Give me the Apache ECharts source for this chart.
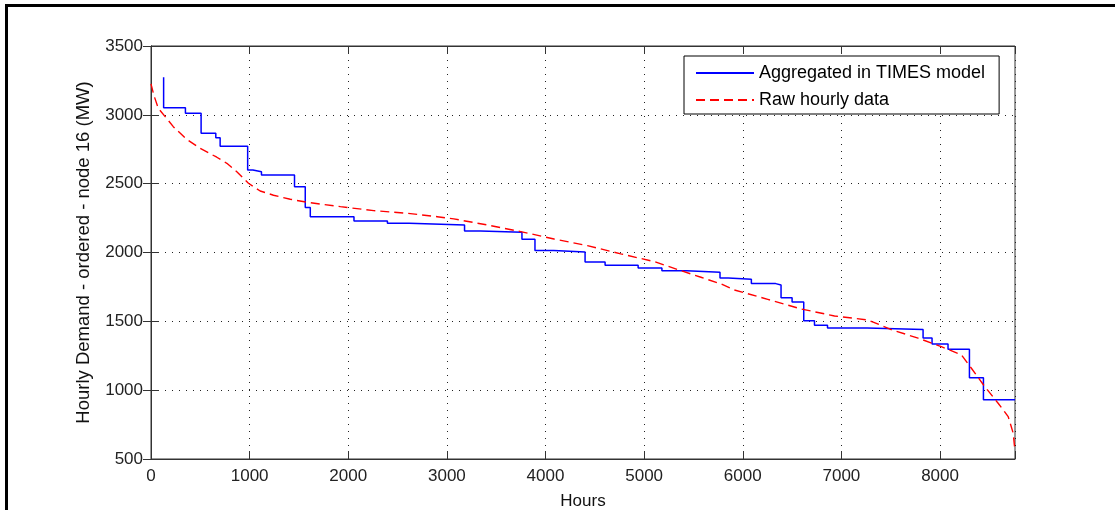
<!DOCTYPE html>
<html>
<head>
<meta charset="utf-8">
<script src="https://cdn.jsdelivr.net/npm/echarts@6/dist/echarts.min.js"></script>
<style>
html,body{margin:0;padding:0;background:#fff;}
#chart{width:1115px;height:510px;}
</style>
</head>
<body>
<div id="chart"></div>
<script>
// Aggregated (step) series: start hour of each level and its value
const aggHours = [128, 128, 349, 508, 657, 701, 980, 1033, 1120, 1455, 1564, 1615, 2058, 2397, 2617, 3179, 3341, 3761, 3893, 4083, 4401, 4604, 4939, 5180, 5431, 5769, 5853, 6087, 6334, 6388, 6500, 6618, 6727, 6859, 7262, 7828, 7919, 8081, 8298, 8440, 8760];
const aggValues = [3273, 3052, 3011, 2866, 2834, 2771, 2600, 2587, 2563, 2478, 2326, 2260, 2229, 2212, 2200, 2157, 2147, 2096, 2014, 2004, 1931, 1907, 1888, 1868, 1857, 1815, 1806, 1774, 1764, 1672, 1641, 1505, 1471, 1452, 1440, 1379, 1336, 1297, 1091, 931, 931];
// Raw hourly data (ordered), sampled along the curve
const rawHours = [0, 30, 74, 226, 362, 498, 667, 769, 870, 988, 1107, 1242, 1412, 1581, 1920, 2258, 2597, 2902, 3070, 3410, 3748, 4086, 4425, 4763, 5102, 5373, 5576, 5779, 5914, 6253, 6591, 6930, 7269, 7505, 7777, 8013, 8217, 8318, 8453, 8589, 8691, 8742, 8757];
const rawValues = [3225, 3140, 3048, 2914, 2822, 2757, 2692, 2648, 2587, 2503, 2447, 2416, 2387, 2365, 2333, 2304, 2285, 2260, 2244, 2200, 2152, 2098, 2050, 1990, 1934, 1868, 1820, 1772, 1728, 1660, 1590, 1539, 1510, 1440, 1378, 1316, 1256, 1159, 1026, 905, 808, 687, 578];
const seriesNames = ['Aggregated in TIMES model', 'Raw hourly data'];
const xTitle = 'Hours';
const yTitle = 'Hourly Demand - ordered - node 16 (MW)';

const FONT = '"Liberation Sans", Arial, sans-serif';
const axisColor = '#333';

const chart = echarts.init(document.getElementById('chart'), null, {renderer: 'canvas'});
const gridLine = {show: true, lineStyle: {color: '#222', type: [1, 6], width: 1}};
chart.setOption({
  animation: false,
  backgroundColor: '#fff',
  textStyle: {fontFamily: FONT},
  grid: {left: 151, top: 46, right: 100, bottom: 51, show: true, borderColor: axisColor, borderWidth: 1,
    containLabel: false, outerBoundsMode: 'none'},
  legend: {
    orient: 'vertical', left: 684, top: 56,
    padding: [8, 14, 5, 11],
    borderColor: '#000', borderWidth: 1, backgroundColor: '#fff', borderRadius: 0,
    itemWidth: 58, itemHeight: 20, itemGap: 9,
    itemStyle: {opacity: 0},
    textStyle: {fontFamily: FONT, fontSize: 18, color: '#000'},
    data: seriesNames
  },
  xAxis: [{
    type: 'value', min: 0, max: 8760, interval: 1000,
    name: xTitle, nameLocation: 'middle', nameGap: 34,
    nameTextStyle: {fontFamily: FONT, fontSize: 17, color: '#111'},
    axisLine: {show: true, lineStyle: {color: axisColor}},
    axisTick: {show: true, inside: true, length: 8, lineStyle: {color: axisColor}},
    axisLabel: {fontFamily: FONT, fontSize: 17, color: '#222', margin: 9,
      formatter: v => (v % 1000 === 0 ? String(v) : '')},
    splitLine: gridLine
  }, {
    type: 'value', min: 0, max: 8760, interval: 1000, position: 'top',
    axisLine: {show: true, lineStyle: {color: axisColor}},
    axisTick: {show: true, inside: true, length: 8, lineStyle: {color: axisColor}},
    axisLabel: {show: false}, splitLine: {show: false}
  }],
  yAxis: [{
    type: 'value', min: 500, max: 3500, interval: 500,
    name: yTitle, nameLocation: 'middle', nameGap: 58, nameRotate: 90,
    nameTextStyle: {fontFamily: FONT, fontSize: 18.5, color: '#111'},
    axisLine: {show: true, lineStyle: {color: axisColor}},
    axisTick: {show: true, inside: true, length: 8, lineStyle: {color: axisColor}},
    axisLabel: {fontFamily: FONT, fontSize: 17, color: '#222', margin: 8,
      formatter: v => String(v)},
    splitLine: gridLine
  }, {
    type: 'value', min: 500, max: 3500, interval: 500, position: 'right',
    axisLine: {show: true, lineStyle: {color: axisColor}},
    axisTick: {show: true, inside: true, length: 8, lineStyle: {color: axisColor}},
    axisLabel: {show: false}, splitLine: {show: false}
  }],
  series: [{
    name: seriesNames[0], type: 'line', step: 'end', showSymbol: false, symbol: 'none',
    data: aggHours.map((h, i) => [h, aggValues[i]]),
    lineStyle: {color: '#0000ff', width: 1.5}, itemStyle: {color: '#0000ff'}, z: 3
  }, {
    name: seriesNames[1], type: 'line', showSymbol: false, symbol: 'none', smooth: false,
    data: rawHours.map((h, i) => [h, rawValues[i]]),
    lineStyle: {color: '#ff0000', width: 1.4, type: [9, 5]}, itemStyle: {color: '#ff0000'}, z: 4
  }],
  graphic: [
    {type: 'line', shape: {x1: 6.5, y1: 4, x2: 6.5, y2: 510}, style: {stroke: '#000', lineWidth: 3}, silent: true},
    {type: 'line', shape: {x1: 5, y1: 5.5, x2: 1115, y2: 5.5}, style: {stroke: '#000', lineWidth: 3}, silent: true}
  ]
});
</script>
</body>
</html>
